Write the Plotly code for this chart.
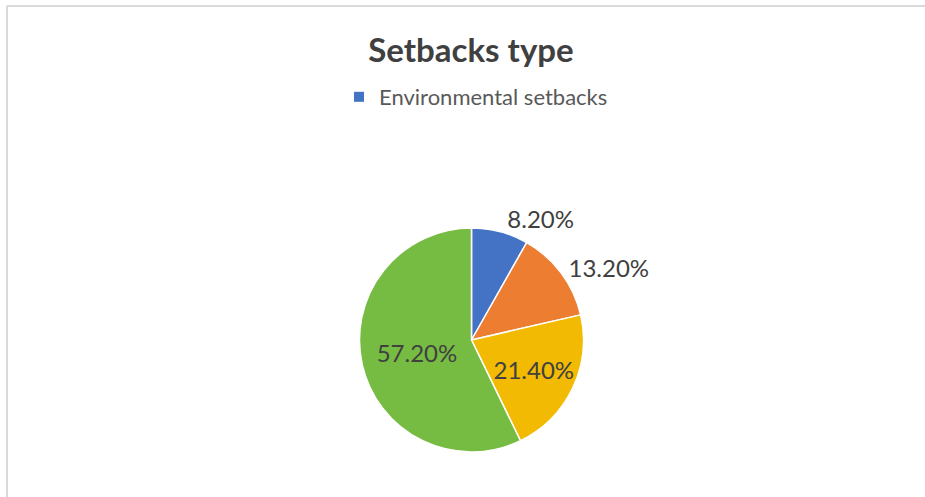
import plotly.graph_objects as go

categories = ["Environmental setbacks", "Economic setbacks", "Social setbacks", "Other setbacks"]
values = [8.2, 13.2, 21.4, 57.2]
colors = ["#4472C4", "#ED7D31", "#F2BA02", "#76BC42"]
text_positions = ["outside", "outside", "inside", "inside"]
legend_items = ["Environmental setbacks"]

W, H = 925, 497
cx, cy, r = 471.5, 340.0, 112.0

fig = go.Figure()
fig.add_trace(go.Pie(
    labels=categories,
    values=values,
    sort=False,
    direction="clockwise",
    rotation=0,
    marker=dict(colors=colors, line=dict(color="white", width=1.5)),
    texttemplate="%{value:.2f}%",
    textposition=text_positions,
    insidetextorientation="horizontal",
    textfont=dict(family="Lato", size=24, color="#404040"),
    showlegend=False,
    domain=dict(x=[(cx - r) / W, (cx + r) / W], y=[1 - (cy + r) / H, 1 - (cy - r) / H]),
    hoverinfo="label+percent",
))

for name in legend_items:
    fig.add_trace(go.Scatter(
        x=[None], y=[None], mode="markers", name=name,
        marker=dict(symbol="square", size=10, color=colors[categories.index(name)]),
        showlegend=True,
    ))

fig.update_layout(
    width=W, height=H,
    margin=dict(l=0, r=0, t=0, b=0),
    paper_bgcolor="white",
    plot_bgcolor="white",
    xaxis=dict(visible=False),
    yaxis=dict(visible=False),
    title=dict(text="<b>Setbacks type</b>", x=471 / W, xanchor="center",
               y=1 - 50 / H, yanchor="middle", yref="container",
               font=dict(family="Lato", size=33, color="#404040")),
    legend=dict(x=476 / W, xanchor="center", y=1 - 97 / H, yanchor="middle",
                orientation="h", font=dict(family="Lato", size=22, color="#595959"),
                bgcolor="rgba(0,0,0,0)"),
    shapes=[
        dict(type="line", xref="paper", yref="paper", x0=7 / W, x1=1.02, y0=1 - 6 / H, y1=1 - 6 / H,
             line=dict(color="#D9D9D9", width=2)),
        dict(type="line", xref="paper", yref="paper", x0=7 / W, x1=7 / W, y0=1 - 6 / H, y1=-0.02,
             line=dict(color="#D9D9D9", width=2)),
    ],
)

fig.write_html("out.html", config={"displayModeBar": False},
               post_script="document.body.style.margin='0';")
